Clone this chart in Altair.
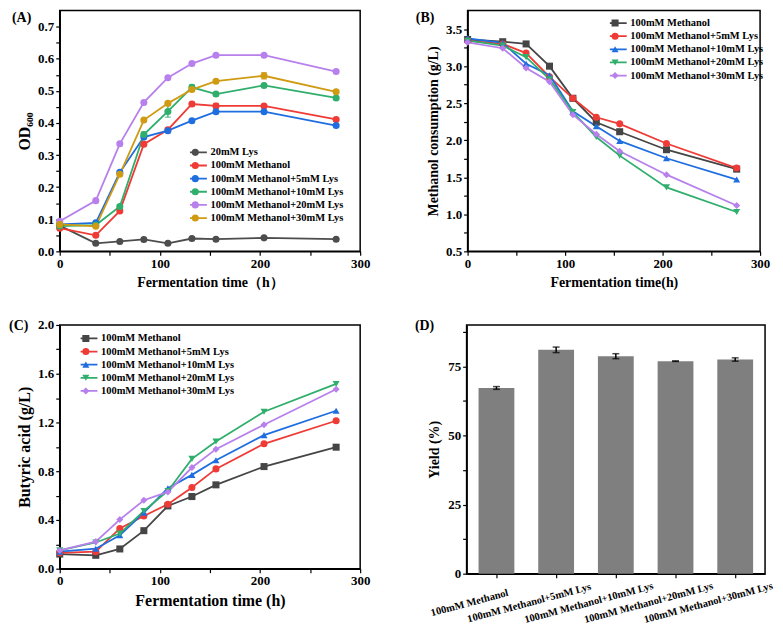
import altair as alt
import pandas as pd

FONT = "Liberation Serif"

HOURS = [0, 36, 60, 84, 108, 132, 156, 204, 276]
X_TICKS = [0, 50, 100, 150, 200, 250, 300]

# ---------------- Panel A : OD600 ----------------
A_SERIES = ["20mM Lys", "100mM Methanol", "100mM Methanol+5mM Lys",
            "100mM Methanol+10mM Lys", "100mM Methanol+20mM Lys",
            "100mM Methanol+30mM Lys"]
A_COLORS = ["#4d4d4d", "#ef3b36", "#1f6ee0", "#2fae6c", "#b780ec", "#d09b12"]
A_LYS20_ONLY = [0.080, 0.025, 0.031, 0.037, 0.025, 0.040, 0.038, 0.042, 0.038]
A_METHANOL = [0.072, 0.050, 0.126, 0.334, 0.379, 0.459, 0.453, 0.453, 0.411]
A_PLUS5 = [0.084, 0.089, 0.246, 0.356, 0.376, 0.407, 0.435, 0.435, 0.392]
A_PLUS10 = [0.079, 0.082, 0.140, 0.364, 0.436, 0.511, 0.490, 0.517, 0.478]
A_PLUS20 = [0.094, 0.158, 0.335, 0.464, 0.541, 0.585, 0.611, 0.611, 0.560]
A_PLUS30 = [0.084, 0.078, 0.240, 0.409, 0.461, 0.504, 0.530, 0.547, 0.497]
A_ERR_LYS20_ONLY = [0.002, 0.002, 0.002, 0.002, 0.002, 0.002, 0.002, 0.002, 0.002]
A_ERR_METHANOL = [0.002, 0.004, 0.004, 0.005, 0.006, 0.006, 0.008, 0.005, 0.004]
A_ERR_PLUS5 = [0.002, 0.003, 0.004, 0.004, 0.005, 0.004, 0.004, 0.004, 0.004]
A_ERR_PLUS10 = [0.002, 0.003, 0.004, 0.008, 0.018, 0.008, 0.005, 0.005, 0.005]
A_ERR_PLUS20 = [0.002, 0.003, 0.004, 0.004, 0.004, 0.004, 0.004, 0.004, 0.004]
A_ERR_PLUS30 = [0.002, 0.003, 0.004, 0.004, 0.005, 0.005, 0.005, 0.010, 0.005]
A_Y_TICKS = [0, 0.05, 0.1, 0.15, 0.2, 0.25, 0.3, 0.35, 0.4, 0.45, 0.5, 0.55,
             0.6, 0.65, 0.7]

# ---------------- Panel B : methanol consumption ----------------
B_SERIES = ["100mM Methanol", "100mM Methanol+5mM Lys", "100mM Methanol+10mM Lys",
            "100mM Methanol+20mM Lys", "100mM Methanol+30mM Lys"]
B_COLORS = ["#454545", "#ef3b36", "#1f6ee0", "#2fae6c", "#b780ec"]
B_SHAPES = ["square", "circle", "triangle-up", "triangle-down", "diamond"]
B_METHANOL = [3.36, 3.33, 3.30, 3.00, 2.566, 2.243, 2.115, 1.872, 1.610]
B_PLUS5 = [3.344, 3.300, 3.176, 2.856, 2.566, 2.310, 2.221, 1.956, 1.624]
B_PLUS10 = [3.376, 3.313, 3.033, 2.878, 2.390, 2.190, 1.991, 1.757, 1.469]
B_PLUS20 = [3.344, 3.278, 3.122, 2.824, 2.380, 2.044, 1.792, 1.363, 1.031]
B_PLUS30 = [3.322, 3.242, 2.976, 2.789, 2.345, 2.080, 1.850, 1.535, 1.119]
B_Y_TICKS = [0.5, 0.75, 1.0, 1.25, 1.5, 1.75, 2.0, 2.25, 2.5, 2.75, 3.0, 3.25,
             3.5]

# ---------------- Panel C : butyric acid ----------------
C_METHANOL = [0.120, 0.110, 0.162, 0.312, 0.515, 0.592, 0.688, 0.838, 0.997]
C_PLUS5 = [0.130, 0.140, 0.330, 0.433, 0.529, 0.666, 0.819, 1.025, 1.214]
C_PLUS10 = [0.140, 0.164, 0.274, 0.460, 0.660, 0.770, 0.890, 1.096, 1.296]
C_PLUS20 = [0.150, 0.215, 0.288, 0.474, 0.638, 0.901, 1.044, 1.288, 1.516]
C_PLUS30 = [0.150, 0.222, 0.403, 0.562, 0.630, 0.830, 0.981, 1.181, 1.472]
C_Y_TICKS = [0, 0.2, 0.4, 0.6, 0.8, 1.0, 1.2, 1.4, 1.6, 1.8, 2.0]

# ---------------- Panel D : yield ----------------
D_CATS = B_SERIES
D_YIELD = [67.2, 81.0, 78.7, 76.9, 77.5]
D_ERR = [0.5, 1.0, 0.9, 0.1, 0.6]
D_Y_TICKS = [0, 12.5, 25, 37.5, 50, 62.5, 75, 87.5]


def long_table(series, values, errs=None, colors=None):
    rows = []
    for i, name in enumerate(series):
        for j, h in enumerate(HOURS):
            v = values[i][j]
            row = {"h": h, "series": name, "v": v}
            if errs is not None:
                row["lo"] = v - errs[i][j]
                row["hi"] = v + errs[i][j]
                row["c"] = colors[i]
            rows.append(row)
    return pd.DataFrame(rows)


def legends(lx, ly):
    common = dict(title=None, orient="none", legendX=lx, legendY=ly, padding=0,
                  symbolSize=50, symbolStrokeWidth=1.8, labelOffset=10,
                  labelFont=FONT, labelFontSize=10.5, labelFontWeight="bold",
                  labelColor="black", rowPadding=2.2, clipHeight=11)
    line_leg = alt.Legend(symbolType="M-3.3,0L3.3,0", labelOpacity=0, **common)
    pt_leg = alt.Legend(symbolStrokeColor="transparent", symbolOpacity=1, **common)
    return line_leg, pt_leg


def x_axis(title, tsize):
    return alt.Axis(title=title, values=X_TICKS, format="d",
                    labelExpr="datum.value % 100 === 0 ? datum.label : ''",
                    labelFlush=False, labelOverlap=False, labelFontSize=13,
                    titleFontSize=tsize, labelPadding=2, titlePadding=5)


def y_axis(title, tsize, ticks, expr):
    return alt.Axis(title=title, values=ticks, labelExpr=expr, labelOverlap=False,
                    labelFontSize=13, titleFontSize=tsize, labelPadding=2,
                    titlePadding=5)


def tag_layer(tag, tx, ty):
    return alt.Chart(pd.DataFrame({"t": [tag]})).mark_text(
        font=FONT, fontSize=14, fontWeight="bold", align="left", baseline="top",
        color="black").encode(text="t:N", x=alt.value(tx), y=alt.value(ty))


def line_panel(df, series, colors, shapes, xaxis, ydomain, yaxis, lx, ly,
               tag, tx, ty, width, height, with_err):
    x = alt.X("h:Q", scale=alt.Scale(domain=[0, 300], nice=False), axis=xaxis)
    yscale = alt.Scale(domain=ydomain, nice=False, zero=False)
    y = alt.Y("v:Q", scale=yscale, axis=yaxis)
    line_leg, pt_leg = legends(lx, ly)
    base = alt.Chart(df)
    layers = []
    if with_err:
        layers.append(base.mark_errorbar(ticks={"size": 6}, thickness=1.2).encode(
            x=x, y=alt.Y("lo:Q", scale=yscale, axis=yaxis), y2="hi:Q",
            color=alt.Color("c:N", scale=None)))
    layers.append(base.mark_line(strokeWidth=1.8).encode(
        x=x, y=y,
        stroke=alt.Stroke("series:N", sort=series, scale=alt.Scale(range=colors),
                          legend=line_leg)))
    enc = dict(x=x, y=y,
               fill=alt.Fill("series:N", scale=alt.Scale(domain=series, range=colors),
                             legend=pt_leg))
    if shapes is not None:
        enc["shape"] = alt.Shape("series:N",
                                 scale=alt.Scale(domain=series, range=shapes),
                                 legend=pt_leg)
    layers.append(base.mark_point(filled=True, size=50, opacity=1,
                                  strokeWidth=0).encode(**enc))
    layers.append(tag_layer(tag, tx, ty))
    return alt.layer(*layers).properties(width=width, height=height)


# ---- Panel A
a_df = long_table(A_SERIES,
                  [A_LYS20_ONLY, A_METHANOL, A_PLUS5, A_PLUS10, A_PLUS20, A_PLUS30],
                  [A_ERR_LYS20_ONLY, A_ERR_METHANOL, A_ERR_PLUS5, A_ERR_PLUS10,
                   A_ERR_PLUS20, A_ERR_PLUS30], A_COLORS)
chart_a = line_panel(
    a_df, A_SERIES, A_COLORS, None,
    x_axis("Fermentation time（h）", 14), [0, 0.75],
    y_axis("OD₆₀₀", 16, A_Y_TICKS,
           "round(datum.value*100) % 10 === 0 ? format(datum.value, '.1f') : ''"),
    131, 137, "(A)", -48, 0, 302, 242, True)

# ---- Panel B
b_df = long_table(B_SERIES, [B_METHANOL, B_PLUS5, B_PLUS10, B_PLUS20, B_PLUS30])
chart_b = line_panel(
    b_df, B_SERIES, B_COLORS, B_SHAPES,
    x_axis("Fermentation time(h)", 14), [0.5, 3.75],
    y_axis("Methanol consumption (g/L)", 14, B_Y_TICKS,
           "round(datum.value*100) % 50 === 0 ? format(datum.value, '.1f') : ''"),
    143, 7, "(B)", -52, 0, 294, 242, False)

# ---- Panel C
c_df = long_table(B_SERIES, [C_METHANOL, C_PLUS5, C_PLUS10, C_PLUS20, C_PLUS30])
chart_c = line_panel(
    c_df, B_SERIES, B_COLORS, B_SHAPES,
    x_axis("Fermentation time (h)", 16), [0, 2.0],
    y_axis("Butyric acid (g/L)", 16, C_Y_TICKS,
           "round(datum.value*10) % 4 === 0 ? format(datum.value, '.1f') : ''"),
    21, 8, "(C)", -51, -6, 302, 245, False)

# ---- Panel D
d_df = pd.DataFrame({"cat": D_CATS, "y": D_YIELD,
                     "lo": [v - e for v, e in zip(D_YIELD, D_ERR)],
                     "hi": [v + e for v, e in zip(D_YIELD, D_ERR)]})
d_x = alt.X("cat:N", sort=D_CATS,
            scale=alt.Scale(paddingInner=0.4, paddingOuter=0.2),
            axis=alt.Axis(title=None, labelAngle=345, labelAlign="center",
                          labelBaseline="middle", labelOffset=-27, labelPadding=25,
                          labelFontSize=10.5, labelLimit=300))
d_yscale = alt.Scale(domain=[0, 90], nice=False)
d_yaxis = alt.Axis(title="Yield (%)", values=D_Y_TICKS, labelOverlap=False,
                   labelExpr="datum.value % 25 === 0 ? format(datum.value, 'd') : ''",
                   labelFontSize=13, titleFontSize=14, labelPadding=2, titlePadding=6)
d_base = alt.Chart(d_df)
d_bars = d_base.mark_bar(color="#7f7f7f").encode(
    x=d_x, y=alt.Y("y:Q", scale=d_yscale, axis=d_yaxis))
d_err = d_base.mark_errorbar(ticks={"size": 7}, thickness=1.5, color="black").encode(
    x=d_x, y=alt.Y("lo:Q", scale=d_yscale, axis=d_yaxis), y2="hi:Q")
chart_d = alt.layer(d_bars, d_err, tag_layer("(D)", -52, -6)).properties(
    width=300, height=250)

RES = dict(stroke="independent", fill="independent", shape="independent",
           color="independent")
row1 = alt.hconcat(chart_a, chart_b, spacing=44).resolve_scale(**RES)
row2 = alt.hconcat(chart_c, chart_d, spacing=43).resolve_scale(**RES)

chart = alt.vconcat(row1, row2, spacing=28).resolve_scale(**RES).properties(
    padding=0
).configure_view(
    stroke="black", strokeWidth=1.5
).configure_axis(
    grid=False, tickSize=4, tickColor="black", tickWidth=1.2,
    domainColor="black", domainWidth=1.5,
    labelFont=FONT, labelFontWeight="bold", labelColor="black",
    titleFont=FONT, titleFontWeight="bold", titleColor="black"
)

chart.save("out.html", embed_options={"renderer": "svg", "actions": False})
